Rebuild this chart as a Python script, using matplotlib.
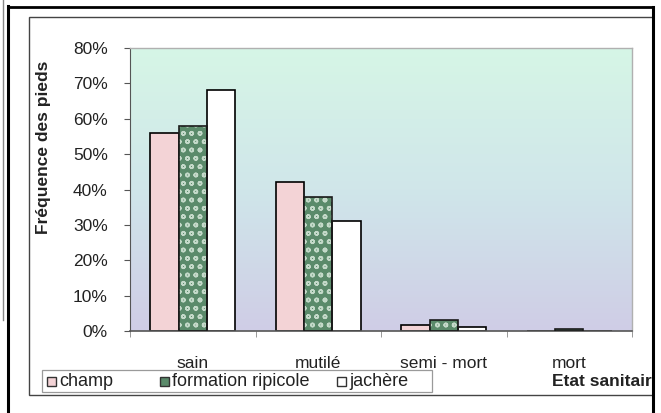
import numpy as np
import matplotlib
matplotlib.use("Agg")
import matplotlib.pyplot as plt
from matplotlib.patches import Rectangle
from matplotlib.lines import Line2D
from matplotlib.colors import LinearSegmentedColormap

categories = ["sain", "mutilé", "semi - mort", "mort"]
champ = [56, 42, 1.6, 0]
ripicole = [58, 38, 3.2, 0.6]
jachere = [68, 31, 1.0, 0]
yticks = [0, 10, 20, 30, 40, 50, 60, 70, 80]
legend_labels = ["champ", "formation ripicole", "jachère"]

plt.rcParams['font.family'] = ['Liberation Sans', 'DejaVu Sans']
plt.rcParams['hatch.linewidth'] = 1.1

W, H = 661, 413
fig = plt.figure(figsize=(W / 100, H / 100), dpi=100)
fig.patch.set_facecolor("white")

ax = fig.add_axes([130 / W, 1 - 331 / H, 502 / W, 283 / H])

# gradient background, mint at the top to lavender at the bottom
cmap = LinearSegmentedColormap.from_list("bg", ["#cfcde6", "#d0e6ea", "#d6f6e6"])
grad = np.linspace(0, 1, 256).reshape(-1, 1)
ax.imshow(grad, aspect="auto", cmap=cmap, origin="lower",
          extent=[0, 1, 0, 1], transform=ax.transAxes, zorder=0)

x = np.arange(len(categories))
w = 0.225

ax.bar(x - w, champ, w, color="#f3d3d6", edgecolor="black", linewidth=1.2, zorder=2)
ax.bar(x, ripicole, w, color="#5a8a6a", edgecolor="#c4d9c9", hatch="oo",
       linewidth=0, zorder=2)
ax.bar(x, ripicole, w, fill=False, edgecolor="#1a1a1a", linewidth=1.2, zorder=3)
ax.bar(x + w, jachere, w, color="white", edgecolor="black", linewidth=1.2, zorder=2)

ax.set_xlim(-0.5, len(categories) - 0.5)
ax.set_ylim(0, 80)
ax.set_yticks(yticks)
ax.set_yticklabels([f"{v}%" for v in yticks], fontsize=12.5, color="#222222")
ax.set_xticks(x)
ax.set_xticklabels(categories, fontsize=12.5, color="#222222")
ax.tick_params(axis="x", length=0, pad=18)
ax.tick_params(axis="y", length=4, width=0.8, color="#555555", pad=12)
ax.set_xticks(np.arange(len(categories) + 1) - 0.5, minor=True)
ax.tick_params(axis="x", which="minor", length=4, direction="out", color="#888888")

for side in ["top", "right"]:
    ax.spines[side].set_color("#b0b0b0")
    ax.spines[side].set_linewidth(1.0)
ax.spines["left"].set_color("#555555")
ax.spines["bottom"].set_color("#555555")
ax.spines["bottom"].set_linewidth(1.2)

fig.text(44 / W, 1 - 147 / H, "Fréquence des pieds", rotation=90, fontsize=12.5,
         fontweight="bold", ha="center", va="center", color="#222222")
fig.text(552 / W, 1 - 381 / H, "Etat sanitair", fontsize=12.5, fontweight="bold",
         ha="left", va="center", color="#222222")

# legend drawn by hand, Excel style
fig.add_artist(Rectangle((42 / W, 1 - 392 / H), 390 / W, 22 / H, fill=False,
                         edgecolor="#9a9a9a", linewidth=0.9,
                         transform=fig.transFigure))
leg_x = [47, 160, 337]
leg_face = ["#f3d3d6", "#5a8a6a", "white"]
for lx, face, lab in zip(leg_x, leg_face, legend_labels):
    fig.add_artist(Rectangle((lx / W, 1 - 386 / H), 9 / W, 9 / H,
                             facecolor=face, edgecolor="#333333", linewidth=1.0,
                             transform=fig.transFigure))
    fig.text((lx + 12) / W, 1 - 382 / H, lab, fontsize=13, ha="left",
             va="center", color="#222222")

# page frames around the chart
fig.add_artist(Line2D([8 / W, 8 / W], [0, 1 - 6 / H], color="black", linewidth=2.2))
fig.add_artist(Line2D([8 / W, 653 / W], [1 - 7 / H, 1 - 7 / H], color="black", linewidth=2.0))
fig.add_artist(Line2D([653 / W, 653 / W], [0, 1 - 7 / H], color="black", linewidth=2.2))
fig.add_artist(Rectangle((29 / W, 1 - 395 / H), 624 / W, 378 / H, fill=False,
                         edgecolor="#444444", linewidth=1.0,
                         transform=fig.transFigure))
fig.add_artist(Line2D([3 / W, 3 / W], [1 - 320 / H, 1], color="#888888", linewidth=1.0))

fig.savefig("out.png", dpi=100)
